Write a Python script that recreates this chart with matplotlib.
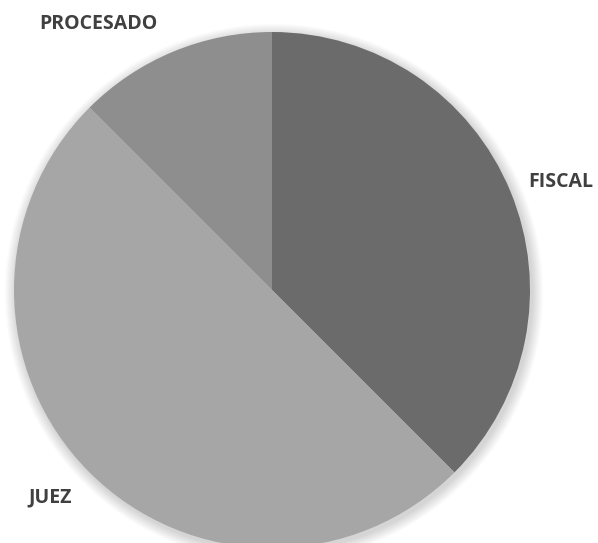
import matplotlib
matplotlib.use("Agg")
import matplotlib.pyplot as plt
from matplotlib.patches import Circle

categories = ["FISCAL", "JUEZ", "PROCESADO"]
values = [37.5, 50.0, 12.5]
colors = ["#6b6b6b", "#a6a6a6", "#8e8e8e"]
label_pos = [(561, 361), (50, 46), (98, 519)]

W, H = 598, 543
fig = plt.figure(figsize=(W / 100, H / 100), dpi=100)
ax = fig.add_axes([0, 0, 1, 1])

cx, cy, r = 272, 253, 258

# soft shadow
for i in range(14, 0, -1):
    ax.add_patch(Circle((cx + 2, cy - 3), r + i * 0.8, color="black",
                        alpha=0.012, lw=0, zorder=0))

ax.pie(values, colors=colors, startangle=90, counterclock=False,
       center=(cx, cy), radius=r, frame=True,
       wedgeprops=dict(linewidth=0))
ax.set_xlim(0, W)
ax.set_ylim(0, H)
ax.set_aspect("equal")
ax.axis("off")

for cat, (x, y) in zip(categories, label_pos):
    ax.text(x, y, cat, ha="center", va="center", fontsize=14,
            fontweight="bold", color="#404040", family="Open Sans")

fig.savefig("out.png", dpi=100)
